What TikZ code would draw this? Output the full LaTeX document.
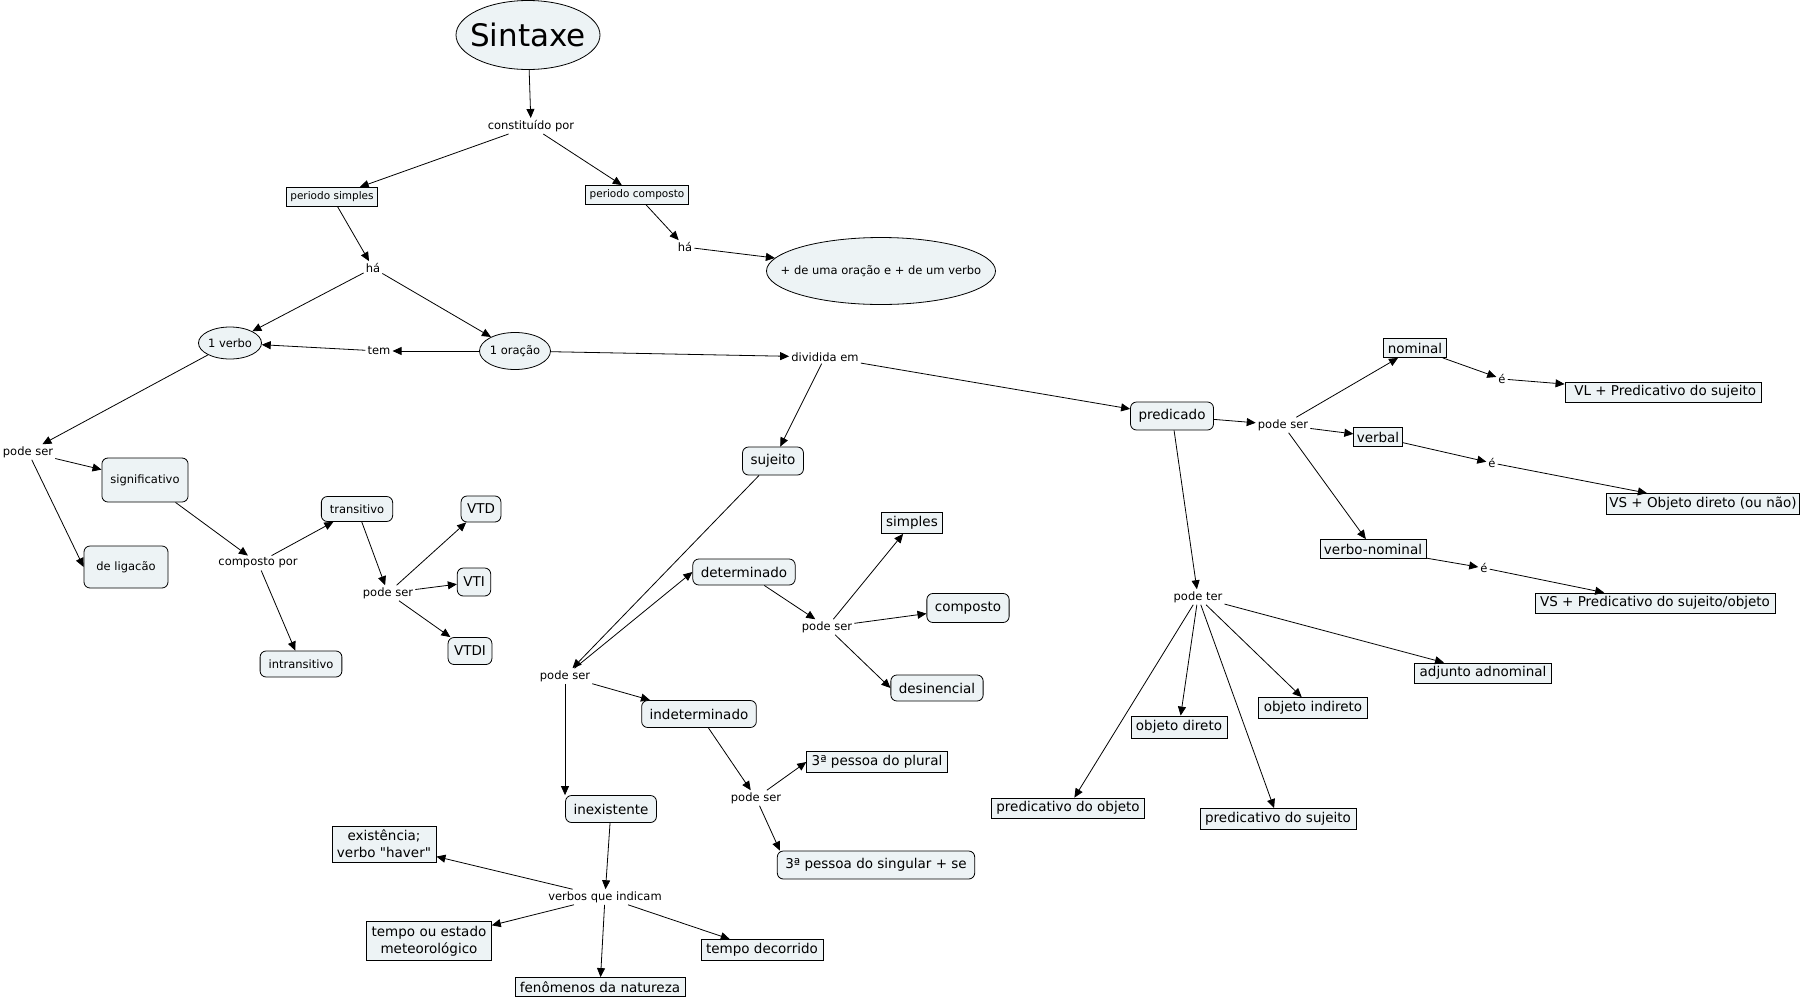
\documentclass[tikz,border=0pt]{standalone}
\usepackage{fontspec}
\setmainfont{DejaVu Sans}
\usetikzlibrary{arrows.meta,shapes.geometric}
\definecolor{cfill}{RGB}{237,243,245}
\newcommand\dq{\XeTeXglyph\XeTeXcharglyph"22\relax}
\begin{document}
\begin{tikzpicture}[x=1pt,y=-1pt,
  box/.style={draw,fill=cfill,line width=0.8pt,inner xsep=5pt,inner ysep=0pt,minimum height=20pt,font=\fontsize{13.5}{15}\selectfont},
  rbox/.style={box,rounded corners=6pt,inner xsep=8pt,minimum height=27pt},
  sbox/.style={rbox,inner xsep=8.5pt,minimum height=25pt,font=\fontsize{11.5}{13}\selectfont},
  pbox/.style={box,inner xsep=4pt,minimum height=19pt,font=\fontsize{10.5}{12}\selectfont},
  oval/.style={draw,fill=cfill,line width=0.8pt,ellipse,inner sep=0pt,font=\fontsize{11.5}{13}\selectfont},
  lnk/.style={inner sep=2pt,font=\fontsize{11.5}{13}\selectfont},
  conn/.style={-{Triangle[length=9pt,width=8pt]},line width=0.8pt}] % mapa de sintaxe
\useasboundingbox (0,0) rectangle (1808,999);
\node [oval,minimum width=144pt,minimum height=69pt,inner xsep=-12pt,font=\fontsize{31}{34}\selectfont] (sint) at (528,35) {Sintaxe};
\node [lnk] (constpor) at (531,126) {constituído por};
\node [pbox] (psimples) at (332,197) {periodo simples};
\node [pbox] (pcomposto) at (637,195) {periodo composto};
\node [lnk] (ha1) at (373,268) {há};
\node [lnk] (ha2) at (685,247) {há};
\node [oval,minimum width=229pt,minimum height=67pt,inner xsep=-20pt] (maisde) at (881,271) {+ de uma oração e + de um verbo};
\node [oval,minimum width=63pt,minimum height=32pt] (verbo1) at (230,343) {1 verbo};
\node [oval,minimum width=71pt,minimum height=37pt] (oracao1) at (515,351) {1 oração};
\node [lnk] (tem) at (379,351) {tem};
\node [lnk] (dividida) at (825,357) {dividida em};
% verbo
\node [lnk] (podeser1) at (28,452) {pode ser};
\node [sbox,minimum width=86pt,minimum height=44pt] (signif) at (145,480) {significativo};
\node [sbox,minimum width=84pt,minimum height=42pt] (ligacao) at (126,567) {de ligacão};
\node [lnk] (compostopor) at (258,563) {composto por};
\node [sbox] (trans) at (357,509) {transitivo};
\node [sbox,minimum height=26pt] (intrans) at (301,664) {intransitivo};
\node [lnk] (podeser2) at (388,593) {pode ser};
\node [rbox,inner xsep=6pt,minimum height=26pt] (vtd) at (481,509) {VTD};
\node [rbox,inner xsep=6pt,minimum height=28pt] (vti) at (474,582) {VTI};
\node [rbox,inner xsep=6pt] (vtdi) at (470,651) {VTDI};
% sujeito
\node [rbox,minimum height=28pt] (sujeito) at (773,461) {sujeito};
\node [lnk] (podeser3) at (565,676) {pode ser};
\node [rbox,minimum height=26pt] (determ) at (744,572) {determinado};
\node [lnk] (podeser4) at (827,627) {pode ser};
\node [box,minimum height=21pt] (simples) at (912,523) {simples};
\node [rbox,minimum height=29pt] (compostosuj) at (968,608) {composto};
\node [rbox,minimum height=26pt] (desin) at (937,688) {desinencial};
\node [rbox] (indeterm) at (699,714) {indeterminado};
\node [lnk] (podeser5) at (756,798) {pode ser};
\node [box,minimum height=21pt] (plural) at (877,762) {3ª pessoa do plural};
\node [rbox,minimum height=28pt] (singular) at (876,865) {3ª pessoa do singular + se};
\node [rbox] (inexist) at (611,809) {inexistente};
\node [lnk] (verbosq) at (605,897) {verbos que indicam};
\node [box,align=center,minimum height=36pt,font=\fontsize{13.5}{17}\selectfont] (existencia) at (384,844) {existência;\\verbo \dq haver\dq};
\node [box,align=center,minimum height=39pt,font=\fontsize{13.5}{17}\selectfont] (meteoro) at (429,941) {tempo ou estado\\meteorológico};
\node [box,minimum height=19pt] (fenomenos) at (600,987) {fenômenos da natureza};
\node [box,minimum height=21pt] (decorrido) at (762,950) {tempo decorrido};
% predicado
\node [rbox,minimum height=28pt] (predicado) at (1172,416) {predicado};
\node [lnk] (podeser6) at (1283,425) {pode ser};
\node [box,minimum height=19pt,inner xsep=4pt] (nominal) at (1415,348) {nominal};
\node [lnk] (e1) at (1502,379) {é};
\node [box] (vlpred) at (1663,392) {~VL + Predicativo do sujeito};
\node [box,minimum height=19pt,inner xsep=3pt] (verbal) at (1378,437) {verbal};
\node [lnk] (e2) at (1492,463) {é};
\node [box,minimum height=21pt,inner xsep=3pt] (vsobj) at (1703,504) {VS + Objeto direto (ou não)};
\node [box,minimum height=19pt,inner xsep=4pt] (verbonom) at (1373,549) {verbo-nominal};
\node [lnk] (e3) at (1484,568) {é};
\node [box] (vspred) at (1655,603) {VS + Predicativo do sujeito/objeto};
\node [lnk] (podeter) at (1198,597) {pode ter};
\node [box] (adjunto) at (1483,673) {adjunto adnominal};
\node [box,minimum height=21pt] (objind) at (1313,708) {objeto indireto};
\node [box,minimum height=22pt] (objdir) at (1179,727) {objeto direto};
\node [box] (predobj) at (1068,808) {predicativo do objeto};
\node [box,minimum height=21pt] (predsuj) at (1278,819) {predicativo do sujeito};
% ligacoes
\draw [conn] (sint) -- (constpor);
\draw [conn] (constpor) -- (psimples);
\draw [conn] (constpor) -- (pcomposto);
\draw [conn] (psimples) -- (ha1);
\draw [conn] (ha1) -- (verbo1);
\draw [conn] (ha1) -- (oracao1);
\draw [conn] (pcomposto) -- (ha2);
\draw [conn] (ha2) -- (maisde);
\draw [conn] (oracao1) -- (tem);
\draw [conn] (tem) -- (verbo1);
\draw [conn] (oracao1) -- (dividida);
\draw [conn] (dividida) -- (sujeito);
\draw [conn] (dividida) -- (predicado);
\draw [conn] (verbo1) -- (podeser1);
\draw [conn] (podeser1) -- (signif);
\draw [conn] (podeser1) -- (ligacao.west);
\draw [conn] (signif) -- (compostopor);
\draw [conn] (compostopor) -- (trans);
\draw [conn] (compostopor) -- (intrans);
\draw [conn] (trans) -- (podeser2);
\draw [conn] (podeser2) -- (vtd);
\draw [conn] (podeser2) -- (vti);
\draw [conn] (podeser2) -- (vtdi);
\draw [conn] (sujeito) -- (podeser3);
\draw [conn] (podeser3) -- (determ.west);
\draw [conn] (podeser3) -- (indeterm);
\draw [conn] (podeser3) -- (podeser3 |- inexist.north);
\draw [conn] (determ) -- (podeser4);
\draw [conn] (podeser4) -- (simples);
\draw [conn] (podeser4) -- (compostosuj);
\draw [conn] (podeser4) -- (desin.west);
\draw [conn] (indeterm) -- (podeser5);
\draw [conn] (podeser5) -- (plural.west);
\draw [conn] (podeser5) -- ([xshift=3pt]singular.north west);
\draw [conn] (inexist) -- (verbosq);
\draw [conn] (verbosq) -- (existencia);
\draw [conn] (verbosq) -- (meteoro);
\draw [conn] (verbosq) -- (fenomenos);
\draw [conn] (verbosq) -- (decorrido);
\draw [conn] (predicado) -- (podeser6);
\draw [conn] (podeser6) -- (nominal);
\draw [conn] (podeser6) -- (verbal);
\draw [conn] (podeser6) -- (verbonom);
\draw [conn] (nominal) -- (e1);
\draw [conn] (e1) -- (vlpred);
\draw [conn] (verbal) -- (e2);
\draw [conn] (e2) -- (vsobj);
\draw [conn] (verbonom) -- (e3);
\draw [conn] (e3) -- (vspred);
\draw [conn] (predicado) -- (podeter);
\draw [conn] (podeter) -- (adjunto);
\draw [conn] (podeter) -- (objind);
\draw [conn] (podeter) -- (objdir);
\draw [conn] (podeter) -- (predobj);
\draw [conn] (podeter) -- (predsuj);
\end{tikzpicture}
\end{document}
